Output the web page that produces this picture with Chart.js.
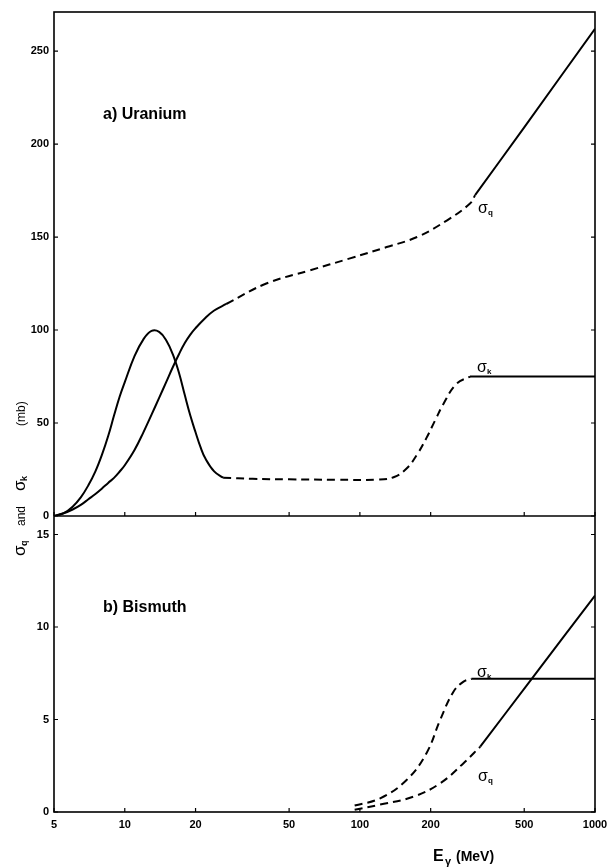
<!DOCTYPE html>
<html><head><meta charset="utf-8">
<script src="https://cdn.jsdelivr.net/npm/chart.js@4.4.1/dist/chart.umd.min.js"></script>
<style>html,body{margin:0;padding:0;background:#fff}</style>
</head><body>
<canvas id="c" width="607" height="868"></canvas>
<script>
// ---- tick labels ----
const xTicks = [5, 10, 20, 50, 100, 200, 500, 1000];
const yTopTicks = [0, 50, 100, 150, 200, 250];
const yBotTicks = [0, 5, 10, 15];

// ---- a) Uranium ----
const uKSolidE = [5, 5.5, 6, 6.5, 7, 7.5, 8, 8.5, 9, 9.5, 10, 11, 12, 13, 14, 15, 16, 17, 18, 19, 20, 21, 22, 24, 26.2];
const uKSolidV = [0, 1.5, 5, 10, 16.5, 24, 33, 43, 54, 64, 72, 86, 95, 99.5, 99, 94.5, 87, 77, 65, 54, 45, 37, 31, 24, 20.6];
const uKDashE = [26.2, 35, 50, 80, 120, 140, 158, 175, 192, 210, 226, 257, 294];
const uKDashV = [20.6, 20, 19.7, 19.5, 19.6, 21, 25.5, 33, 42, 52, 60, 71, 75];
const uKHighE = [294, 1000];
const uKHighV = [75, 75];

const uQSolidE = [5, 5.5, 6, 6.5, 7, 7.5, 8, 8.5, 9, 9.5, 10, 11, 12, 13, 14, 15, 16, 17, 18, 19, 20, 22, 24, 27];
const uQSolidV = [0, 1.5, 3.5, 6, 9, 11.8, 14.8, 17.8, 20.5, 23.8, 27.3, 35.5, 45, 54.5, 63.5, 72, 80, 87, 93, 97.5, 101, 106.5, 110.5, 114];
const uQDashE = [27, 40, 61, 90, 130, 175, 235, 294, 309];
const uQDashV = [114, 125, 132, 138.4, 144.6, 150, 159, 168, 172.5];
const uQHighE = [309, 500, 1000];
const uQHighV = [172.5, 209, 262];

// ---- b) Bismuth ----
const bKDashE = [95, 122, 158, 192, 219.5, 250, 276, 299];
const bKDashV = [0.35, 0.74, 1.73, 3.18, 4.98, 6.5, 7.05, 7.2];
const bKHighE = [299, 1000];
const bKHighV = [7.2, 7.2];

const bQDashE = [95, 122, 169, 219.5, 276, 325];
const bQDashV = [0.12, 0.4, 0.83, 1.55, 2.64, 3.53];
const bQHighE = [325, 538, 1000];
const bQHighV = [3.53, 7.2, 11.7];

function pts(E, V) { return E.map((e, i) => ({ x: e, y: V[i] })); }
function ds(E, V, axis, dashed) {
  return {
    data: pts(E, V), yAxisID: axis, xAxisID: 'x',
    borderColor: '#000', borderWidth: 2, borderDash: dashed ? [8, 5] : [],
    pointRadius: 0, fill: false, tension: 0.4
  };
}

const FONT = '"Liberation Sans", Arial, sans-serif';

function fnt(size, bold) { return (bold ? 'bold ' : '') + size + 'px ' + FONT; }

const curveLabels = [
  { axis: 'yTop', E: 318, v: 166, sub: 'q' },
  { axis: 'yTop', E: 315, v: 80.5, sub: 'k' },
  { axis: 'yBot', E: 315, v: 7.6, sub: 'k' },
  { axis: 'yBot', E: 318, v: 2.0, sub: 'q' }
];

const framePlugin = {
  id: 'frame',
  afterDraw(chart) {
    const { ctx, chartArea: a, scales } = chart;
    const x = scales.x, yT = scales.yTop, yB = scales.yBot;
    ctx.save();
    ctx.strokeStyle = '#000';
    ctx.fillStyle = '#000';
    ctx.lineWidth = 1.6;
    ctx.setLineDash([]);
    ctx.strokeRect(a.left, a.top, a.right - a.left, a.bottom - a.top);
    const sep = yT.getPixelForValue(0);
    ctx.beginPath(); ctx.moveTo(a.left, sep); ctx.lineTo(a.right, sep); ctx.stroke();
    ctx.lineWidth = 1.2;
    ctx.beginPath();
    yTopTicks.forEach(v => { const p = yT.getPixelForValue(v); ctx.moveTo(a.left, p); ctx.lineTo(a.left + 4, p); ctx.moveTo(a.right, p); ctx.lineTo(a.right - 4, p); });
    yBotTicks.forEach(v => { const p = yB.getPixelForValue(v); ctx.moveTo(a.left, p); ctx.lineTo(a.left + 4, p); ctx.moveTo(a.right, p); ctx.lineTo(a.right - 4, p); });
    xTicks.forEach(v => { const p = x.getPixelForValue(v); ctx.moveTo(p, sep); ctx.lineTo(p, sep - 4); ctx.moveTo(p, a.bottom); ctx.lineTo(p, a.bottom - 4); });
    ctx.stroke();

    ctx.textBaseline = 'alphabetic';
    ctx.textAlign = 'left';
    ctx.font = fnt(16, true);
    ctx.fillText('a) Uranium', a.left + 49, 119);
    ctx.fillText('b) Bismuth', a.left + 49, 612);

    curveLabels.forEach(l => {
      const px = x.getPixelForValue(l.E);
      const py = scales[l.axis].getPixelForValue(l.v);
      ctx.font = fnt(16, false); ctx.fillText('σ', px, py + 6);
      ctx.font = fnt(8, true); ctx.fillText(l.sub, px + 10, py + 8);
    });

    // x title
    ctx.font = fnt(16, true); ctx.fillText('E', 433, 861);
    ctx.font = fnt(11, true); ctx.fillText('γ', 445, 865);
    ctx.font = fnt(14, true); ctx.fillText('(MeV)', 456, 861);

    // y title (rotated)
    ctx.save();
    ctx.translate(25, 556);
    ctx.rotate(-Math.PI / 2);
    ctx.font = fnt(17, false); ctx.fillText('σ', 0, 0);
    ctx.font = fnt(9, true); ctx.fillText('q', 10, 2);
    ctx.font = fnt(12, false); ctx.fillText('and', 30, 0);
    ctx.font = fnt(17, false); ctx.fillText('σ', 65, 0);
    ctx.font = fnt(9, true); ctx.fillText('k', 75, 2);
    ctx.font = fnt(12, false); ctx.fillText('(mb)', 130, 0);
    ctx.restore();
    ctx.restore();
  }
};

const tickFont = { family: FONT, size: 11, weight: 'bold' };

new Chart(document.getElementById('c'), {
  type: 'line',
  data: {
    datasets: [
      ds(uKSolidE, uKSolidV, 'yTop', false),
      ds(uKDashE, uKDashV, 'yTop', true),
      ds(uKHighE, uKHighV, 'yTop', false),
      ds(uQSolidE, uQSolidV, 'yTop', false),
      ds(uQDashE, uQDashV, 'yTop', true),
      ds(uQHighE, uQHighV, 'yTop', false),
      ds(bKDashE, bKDashV, 'yBot', true),
      ds(bKHighE, bKHighV, 'yBot', false),
      ds(bQDashE, bQDashV, 'yBot', true),
      ds(bQHighE, bQHighV, 'yBot', false)
    ]
  },
  options: {
    responsive: false,
    animation: false,
    devicePixelRatio: 1,
    layout: { padding: { top: 12, right: 12, left: 0, bottom: 0 } },
    plugins: { legend: { display: false }, tooltip: { enabled: false } },
    scales: {
      x: {
        type: 'logarithmic', min: 5, max: 1000, position: 'bottom',
        afterBuildTicks: s => { s.ticks = xTicks.map(v => ({ value: v })); },
        afterFit: s => { s.height = 56; s.paddingLeft = 0; s.paddingRight = 0; },
        ticks: { autoSkip: false, maxRotation: 0, padding: 6, font: tickFont, color: '#000', callback: v => String(v) },
        grid: { display: false, drawTicks: false }, border: { display: false }
      },
      yBot: {
        type: 'linear', min: 0, max: 16, position: 'left', stack: 'panels', stackWeight: 296,
        afterBuildTicks: s => { s.ticks = yBotTicks.map(v => ({ value: v })); },
        afterFit: s => { s.width = 54; s.paddingTop = 0; s.paddingBottom = 0; },
        ticks: { padding: 5, font: tickFont, color: '#000', callback: v => String(v) },
        grid: { display: false, drawTicks: false }, border: { display: false }
      },
      yTop: {
        type: 'linear', min: 0, max: 271, position: 'left', stack: 'panels', stackWeight: 504,
        afterBuildTicks: s => { s.ticks = yTopTicks.map(v => ({ value: v })); },
        afterFit: s => { s.width = 54; s.paddingTop = 0; s.paddingBottom = 0; },
        ticks: { padding: 5, font: tickFont, color: '#000', callback: v => String(v) },
        grid: { display: false, drawTicks: false }, border: { display: false }
      }
    }
  },
  plugins: [framePlugin]
});
</script>
</body></html>
